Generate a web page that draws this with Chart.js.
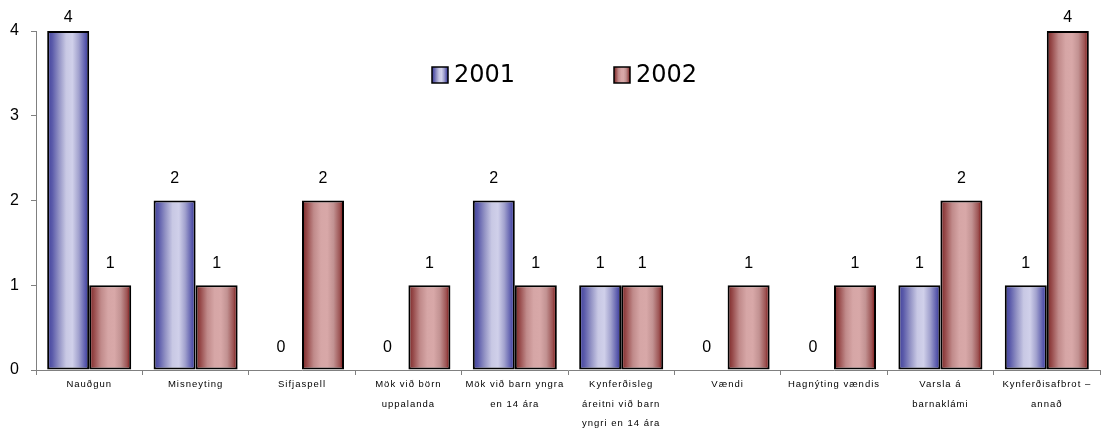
<!DOCTYPE html>
<html>
<head>
<meta charset="utf-8">
<script src="https://cdn.jsdelivr.net/npm/chart.js@4/dist/chart.umd.min.js"></script>
<style>
  html, body { margin: 0; padding: 0; background: #fff; }
  #wrap { width: 1101px; height: 432px; position: relative; }
</style>
</head>
<body>
<div id="wrap"><canvas id="chart"></canvas></div>
<script>
const categories = [
  ['Nauðgun'],
  ['Misneyting'],
  ['Sifjaspell'],
  ['Mök við börn', 'uppalanda'],
  ['Mök við barn yngra', 'en 14 ára'],
  ['Kynferðisleg', 'áreitni við barn', 'yngri en 14 ára'],
  ['Vændi'],
  ['Hagnýting vændis'],
  ['Varsla á', 'barnaklámi'],
  ['Kynferðisafbrot –', 'annað'],
];
const values2001 = [4, 2, 0, 0, 2, 1, 0, 0, 1, 1];
const values2002 = [1, 1, 2, 1, 1, 1, 1, 1, 2, 4];
const yTicks = [0, 1, 2, 3, 4];

// horizontal "cylinder" shading for each series
const SHADES = {
  '2001': [[0, '#40409a'], [0.12, '#5a5aaa'], [0.28, '#9292c4'], [0.45, '#c8c8e4'], [0.6, '#d0d0ea'], [0.75, '#a2a2ce'], [0.9, '#5e5eae'], [1, '#30309a']],
  '2002': [[0, '#7a2424'], [0.12, '#984c4c'], [0.28, '#c08a8a'], [0.45, '#d6a6a6'], [0.6, '#d8a8a8'], [0.75, '#c29292'], [0.9, '#9c5454'], [1, '#780000']],
};

function shade(ctx, x0, x1, label) {
  const g = ctx.createLinearGradient(x0, 0, x1, 0);
  SHADES[label].forEach(([o, c]) => g.addColorStop(o, c));
  return g;
}

const barShading = {
  id: 'barShading',
  beforeDatasetsDraw(chart) {
    const ctx = chart.ctx;
    chart.data.datasets.forEach((ds, i) => {
      chart.getDatasetMeta(i).data.forEach(el => {
        const { x, width } = el.getProps(['x', 'width'], true);
        el.options.backgroundColor = shade(ctx, x - width / 2, x + width / 2, ds.label);
      });
    });
  }
};

const valueLabels = {
  id: 'valueLabels',
  afterDatasetsDraw(chart) {
    const ctx = chart.ctx;
    ctx.save();
    ctx.letterSpacing = '0px';
    ctx.font = '16px "Liberation Sans", Arial, sans-serif';
    ctx.fillStyle = '#000';
    ctx.textAlign = 'center';
    ctx.textBaseline = 'middle';
    chart.data.datasets.forEach((ds, i) => {
      chart.getDatasetMeta(i).data.forEach((el, j) => {
        // labels of the tallest bars get squeezed against the top edge
        const y = Math.max(el.y - 22, chart.chartArea.top - 13);
        ctx.fillText(String(ds.data[j]), el.x, y);
      });
    });
    ctx.restore();
  }
};

// legend drawn inside the plot, like the original
const innerLegend = {
  id: 'innerLegend',
  afterDraw(chart) {
    const ctx = chart.ctx;
    const spots = [432, 614];
    ctx.save();
    ctx.letterSpacing = '0px';
    ctx.font = '24px "DejaVu Sans", Verdana, sans-serif';
    ctx.textBaseline = 'middle';
    ctx.textAlign = 'left';
    chart.data.datasets.forEach((ds, i) => {
      const bx = spots[i], by = 67;
      ctx.fillStyle = shade(ctx, bx, bx + 16, ds.label);
      ctx.fillRect(bx, by, 16, 16);
      ctx.strokeStyle = '#000';
      ctx.lineWidth = 1.5;
      ctx.strokeRect(bx, by, 16, 16);
      ctx.fillStyle = '#000';
      ctx.fillText(ds.label, bx + 22, by + 9);
    });
    ctx.restore();
  }
};

const spacing = {
  id: 'spacing',
  beforeDraw(chart) { chart.ctx.letterSpacing = '1px'; }
};

new Chart(document.getElementById('chart'), {
  type: 'bar',
  data: {
    labels: categories,
    datasets: [
      { label: '2001', data: values2001, backgroundColor: () => SHADES['2001'][4][1] },
      { label: '2002', data: values2002, backgroundColor: () => SHADES['2002'][4][1] },
    ]
  },
  options: {
    responsive: true,
    maintainAspectRatio: false,
    animation: false,
    layout: { padding: { top: 31, right: 1, left: 0, bottom: 0 } },
    datasets: {
      bar: {
        clip: false,
        borderColor: '#000',
        borderWidth: (c) => (c.raw === 0 ? 0 : 2),
        borderSkipped: false,
        barPercentage: 1,
        categoryPercentage: 0.79,
      }
    },
    scales: {
      x: {
        afterFit: (s) => { s.height = 62; },
        grid: { offset: true, drawOnChartArea: false, drawTicks: true, tickLength: 5, color: '#808080' },
        border: { color: '#808080', width: 1 },
        ticks: {
          color: '#000',
          padding: 0,
          maxRotation: 0,
          autoSkip: false,
          font: { family: '"Liberation Sans", Arial, sans-serif', size: 9.5, lineHeight: 2.05 },
        }
      },
      y: {
        min: 0,
        max: 4,
        afterFit: (s) => { s.width = 36; },
        afterBuildTicks: (s) => { s.ticks = yTicks.map(v => ({ value: v })); },
        grid: { drawOnChartArea: false, drawTicks: true, tickLength: 5, color: '#808080' },
        border: { color: '#808080', width: 1 },
        ticks: {
          color: '#000',
          padding: 11,
          font: { family: '"Liberation Sans", Arial, sans-serif', size: 16 },
        }
      }
    },
    plugins: {
      legend: { display: false },
      tooltip: { enabled: false },
    }
  },
  plugins: [spacing, barShading, valueLabels, innerLegend]
});
</script>
</body>
</html>
